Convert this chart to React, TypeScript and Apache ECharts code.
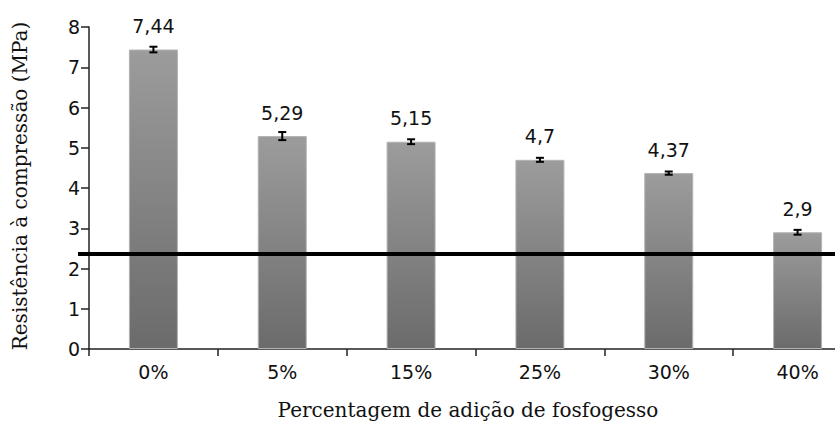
import React, { useEffect, useRef } from "react";
import * as echarts from "echarts";

const categories = ["0%", "5%", "15%", "25%", "30%", "40%"];
const values = [7.44, 5.29, 5.15, 4.7, 4.37, 2.9];
const errors = [0.07, 0.1, 0.06, 0.05, 0.04, 0.06];
const referenceLine = 2.36;
const yTitle = "Resistência à compressão (MPa)";
const xTitle = "Percentagem de adição de fosfogesso";

export default function App() {
  const ref = useRef<HTMLDivElement>(null);
  useEffect(() => {
    if (!ref.current) return;
    const chart = echarts.init(ref.current, null, { renderer: "svg" });
    const errData = values.map((v, i) => [i, v - errors[i], v + errors[i]]);
    chart.setOption({
      animation: false,
      backgroundColor: "#ffffff",
      grid: {
        left: 89,
        width: 773,
        top: 27,
        bottom: 74,
        containLabel: false,
        outerBoundsMode: "none",
      },
      xAxis: {
        type: "category",
        data: categories,
        axisLine: { lineStyle: { color: "#222", width: 1.5 } },
        axisTick: { show: true, length: 7, lineStyle: { color: "#222", width: 1.5 } },
        axisLabel: {
          margin: 13,
          fontFamily: "DejaVu Sans",
          fontSize: 19,
          color: "#111",
        },
      },
      yAxis: {
        type: "value",
        min: 0,
        max: 8,
        interval: 1,
        splitLine: { show: false },
        axisLine: { show: true, lineStyle: { color: "#222", width: 1.5 } },
        axisTick: { show: true, length: 8, lineStyle: { color: "#222", width: 1.5 } },
        axisLabel: {
          margin: 9,
          fontFamily: "DejaVu Sans",
          fontSize: 19,
          color: "#111",
        },
      },
      series: [
        {
          type: "bar",
          data: values,
          barWidth: 49,
          itemStyle: {
            color: new echarts.graphic.LinearGradient(0, 0, 0, 1, [
              { offset: 0, color: "#9c9c9c" },
              { offset: 1, color: "#6b6b6b" },
            ]),
            borderColor: "#b3b3b3",
            borderWidth: 1,
          },
          label: {
            show: true,
            position: "top",
            distance: 14,
            fontFamily: "DejaVu Sans",
            fontSize: 19,
            color: "#111",
            formatter: (p: any) => String(p.value).replace(".", ","),
          },
          z: 2,
        },
        {
          type: "custom",
          data: errData,
          z: 5,
          renderItem: (params: any, api: any) => {
            const x = api.value(0);
            const lo = api.coord([x, api.value(1)]);
            const hi = api.coord([x, api.value(2)]);
            const w = 4;
            const style = { stroke: "#000", lineWidth: 2 };
            return {
              type: "group",
              children: [
                { type: "line", shape: { x1: lo[0], y1: lo[1], x2: hi[0], y2: hi[1] }, style },
                { type: "line", shape: { x1: lo[0] - w, y1: lo[1], x2: lo[0] + w, y2: lo[1] }, style },
                { type: "line", shape: { x1: hi[0] - w, y1: hi[1], x2: hi[0] + w, y2: hi[1] }, style },
              ],
            };
          },
        },
      ],
    });
    const yPx = chart.convertToPixel({ yAxisIndex: 0 }, referenceLine) as number;
    chart.setOption({
      graphic: [
        {
          id: "ytitle",
          type: "text",
          x: 20,
          y: 186,
          rotation: Math.PI / 2,
          style: {
            text: yTitle,
            fontFamily: "DejaVu Serif",
            fontSize: 20,
            fill: "#111",
            align: "center",
            verticalAlign: "middle",
          },
        },
        {
          id: "xtitle",
          type: "text",
          x: 468,
          y: 410,
          style: {
            text: xTitle,
            fontFamily: "DejaVu Serif",
            fontSize: 20,
            fill: "#111",
            align: "center",
            verticalAlign: "middle",
          },
        },
        {
          id: "refline",
          type: "line",
          z: 10,
          shape: { x1: 78, y1: yPx, x2: 835, y2: yPx },
          style: { stroke: "#000", lineWidth: 4 },
        },
      ],
    });
    return () => chart.dispose();
  }, []);
  return (
    <div
      ref={ref}
      style={{ position: "absolute", left: 0, top: 0, width: 835, height: 423 }}
    />
  );
}
